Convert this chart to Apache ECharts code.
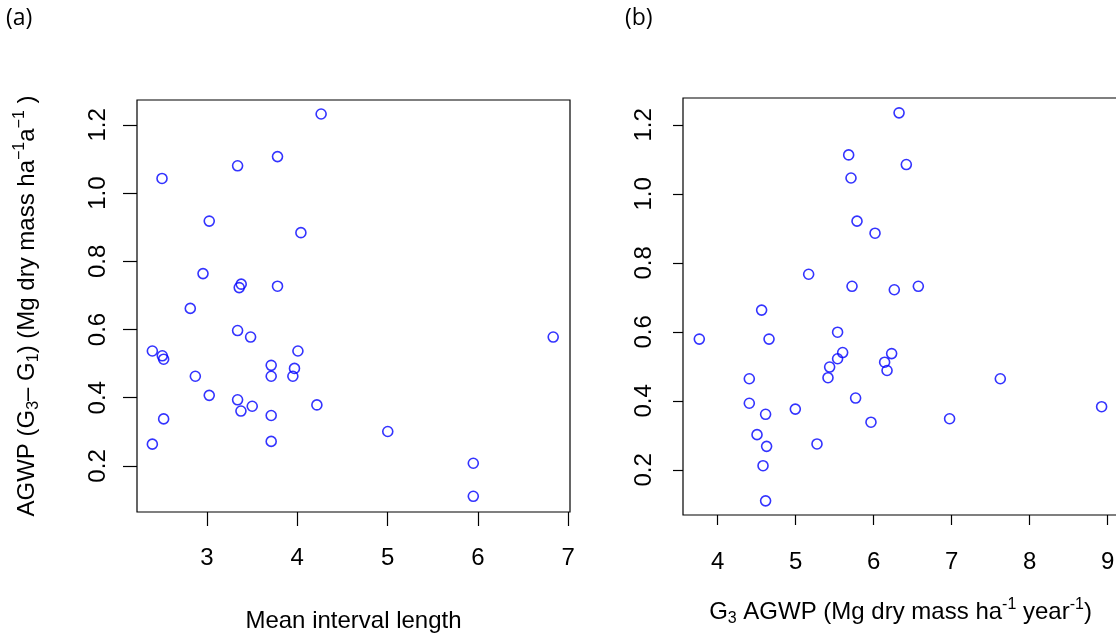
<!DOCTYPE html>
<html>
<head>
<meta charset="utf-8">
<script src="https://cdn.jsdelivr.net/npm/echarts@6/dist/echarts.min.js"></script>
<style>
  html, body { margin: 0; padding: 0; background: #fff; }
  #chart { width: 1116px; height: 637px; }
</style>
</head>
<body>
<div id="chart"></div>
<script>
// Panel (a): Mean interval length vs AGWP (G3 - G1)
const intervalLength = [4.264, 3.781, 3.339, 2.502, 3.025, 4.040, 2.956, 3.379, 3.357, 3.781, 2.815,
  3.339, 3.483, 6.834, 2.395, 2.505, 2.520, 4.007, 3.711, 3.969, 3.951, 3.711, 2.871, 3.025,
  3.339, 3.501, 3.376, 4.217, 3.711, 2.520, 5.002, 2.395, 3.711, 5.949, 5.949];
const agwpDiffA = [1.232, 1.107, 1.080, 1.043, 0.918, 0.884, 0.764, 0.733, 0.723, 0.727, 0.662,
  0.597, 0.578, 0.578, 0.537, 0.523, 0.513, 0.537, 0.495, 0.486, 0.463, 0.463, 0.463, 0.407,
  0.394, 0.375, 0.361, 0.379, 0.348, 0.338, 0.301, 0.264, 0.272, 0.208, 0.111];

// Panel (b): G3 AGWP vs AGWP (G3 - G1)
const g3Agwp = [6.326, 5.680, 6.419, 5.710, 5.787, 6.018, 5.167, 5.723, 6.265, 6.573, 4.564,
  3.765, 4.659, 5.538, 5.603, 5.538, 5.436, 5.415, 6.231, 6.141, 6.172, 7.624, 4.406, 4.406,
  5.769, 8.923, 4.996, 4.615, 6.974, 5.966, 4.505, 5.274, 4.628, 4.582, 4.615];
const agwpDiffB = [1.235, 1.113, 1.085, 1.046, 0.921, 0.886, 0.767, 0.732, 0.722, 0.732, 0.663,
  0.579, 0.579, 0.599, 0.540, 0.522, 0.498, 0.467, 0.537, 0.512, 0.488, 0.464, 0.464, 0.393,
  0.408, 0.383, 0.376, 0.361, 0.348, 0.338, 0.302, 0.275, 0.268, 0.212, 0.110];

// Tick labels
const xTicksA = [3, 4, 5, 6, 7];
const xTicksB = [4, 5, 6, 7, 8, 9];
const yTicks = [0.2, 0.4, 0.6, 0.8, 1.0, 1.2];

const FONT = '"Liberation Sans", Arial, sans-serif';
const subSup = {
  m: { fontFamily: FONT, fontSize: 24, lineHeight: 30, color: '#000' },
  s: { fontFamily: FONT, fontSize: 16, lineHeight: 14, verticalAlign: 'bottom', color: '#000' },
  p: { fontFamily: FONT, fontSize: 16, lineHeight: 14, verticalAlign: 'top', color: '#000' }
};

function xAxisCfg(gridIndex, min, max, ticks, tickLen, margin, name, nameGap) {
  return {
    type: 'value', gridIndex, min, max,
    axisLine: { show: false },
    splitLine: { show: false },
    axisTick: { show: true, length: tickLen, customValues: ticks, lineStyle: { color: '#000', width: 1.2 } },
    axisLabel: { customValues: ticks, margin, fontFamily: FONT, fontSize: 24, color: '#000' },
    name, nameLocation: 'middle', nameGap,
    nameTextStyle: { fontFamily: FONT, fontSize: 24, color: '#000', rich: subSup }
  };
}
function yAxisCfg(gridIndex, min, max, tickLen, margin, name, nameGap) {
  return {
    type: 'value', gridIndex, min, max,
    axisLine: { show: false },
    splitLine: { show: false },
    axisTick: { show: true, length: tickLen, customValues: yTicks, lineStyle: { color: '#000', width: 1.2 } },
    axisLabel: { customValues: yTicks, rotate: 90, margin, fontFamily: FONT, fontSize: 24, color: '#000',
      formatter: v => Number(v).toFixed(1) },
    name, nameLocation: 'middle', nameRotate: 90, nameGap,
    nameTextStyle: { fontFamily: FONT, fontSize: 24, color: '#000', rich: subSup }
  };
}

const pointStyle = {
  type: 'scatter', symbol: 'circle', symbolSize: 10,
  itemStyle: { color: 'rgba(0,0,0,0)', borderColor: '#0000ff', borderWidth: 1.6 },
  emphasis: { disabled: true }
};

const LABEL_FONT = '"Open Sans", "Noto Sans", sans-serif';
const chart = echarts.init(document.getElementById('chart'), null, { renderer: 'canvas' });
chart.setOption({
  animation: false,
  backgroundColor: '#fff',
  title: [
    { text: '(a)', left: 6, top: 7, padding: 0,
      textStyle: { fontFamily: LABEL_FONT, fontSize: 23, fontWeight: 'normal', color: '#000' } },
    { text: '(b)', left: 625, top: 7, padding: 0,
      textStyle: { fontFamily: LABEL_FONT, fontSize: 23, fontWeight: 'normal', color: '#000' } }
  ],
  grid: [
    { left: 137, top: 100, width: 433, height: 412, show: true, borderColor: '#000', borderWidth: 1.2,
      backgroundColor: 'transparent', outerBoundsMode: 'none', containLabel: false },
    { left: 683, top: 98, width: 435, height: 417, show: true, borderColor: '#000', borderWidth: 1.2,
      backgroundColor: 'transparent', outerBoundsMode: 'none', containLabel: false }
  ],
  xAxis: [
    xAxisCfg(0, 2.225, 7.02, xTicksA, 14, 34, '{m|Mean interval length}', 94),
    xAxisCfg(1, 3.556, 9.133, xTicksB, 10, 35,
      '{m|G}{s|3}{m| AGWP (Mg dry mass ha}{p|-1}{m| year}{p|-1}{m|)}', 82)
  ],
  yAxis: [
    yAxisCfg(0, 0.065, 1.273, 14, 27,
      '{m|AGWP (G}{s|3}{m|– G}{s|1}{m|) (Mg dry mass ha}{p|−1}{m|a}{p|−1}{m| )}', 95),
    Object.assign(yAxisCfg(1, 0.069, 1.278, 10, 27, '', 0), { name: '' })
  ],
  series: [
    Object.assign({}, pointStyle, { xAxisIndex: 0, yAxisIndex: 0,
      data: intervalLength.map((x, i) => [x, agwpDiffA[i]]) }),
    Object.assign({}, pointStyle, { xAxisIndex: 1, yAxisIndex: 1,
      data: g3Agwp.map((x, i) => [x, agwpDiffB[i]]) })
  ]
});
</script>
</body>
</html>
